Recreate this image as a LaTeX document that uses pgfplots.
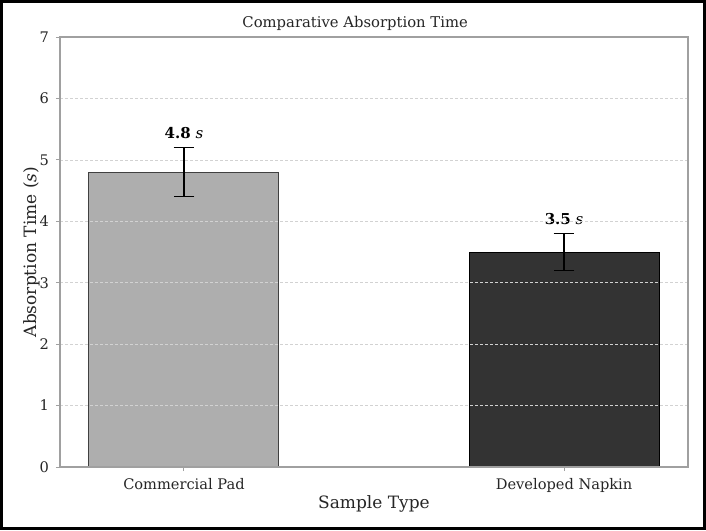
\documentclass[border=0pt]{standalone}
\usepackage{pgfplots}
\pgfplotsset{compat=1.18}
\usepackage{fontspec}
\setmainfont{DejaVu Serif}
\definecolor{lightbar}{HTML}{AEAEAE}
\definecolor{darkbar}{HTML}{333333}
\definecolor{axgray}{HTML}{A0A0A0}
\begin{document}
\begin{tikzpicture}
\useasboundingbox (0,0) rectangle (353pt,265pt);
\fill[white] (0,0) rectangle (353pt,265pt);
\begin{axis}[
  scale only axis,
  width=314pt, height=215pt,
  at={(30pt,31.5pt)}, anchor=south west,
  xmin=-0.326, xmax=1.326,
  ymin=0, ymax=7,
  ytick={0,1,2,3,4,5,6,7},
  xtick={0,1},
  xticklabels={Commercial Pad, Developed Napkin},
  xtick pos=bottom, ytick pos=left,
  /pgf/number format/assume math mode=true,
  ticklabel style={font=\fontsize{7.3}{8}\selectfont, text=black!85},
  tick align=outside,
  major tick length=2pt,
  tick style={axgray, line width=0.5pt},
  axis line style={axgray, line width=0.6pt},
  ymajorgrids,
  grid style={dash pattern=on 1.5pt off 1pt, gray!35, line width=0.35pt},
  axis on top,
  xlabel={Sample Type},
  ylabel={Absorption Time (\textit{s})},
  label style={font=\fontsize{8.5}{10}\selectfont, text=black!85},
  xlabel style={yshift=5pt},
  ylabel style={yshift=-7pt},
  title={Comparative Absorption Time},
  title style={font=\fontsize{7.4}{9}\selectfont, text=black!85, at={(0.47,1)}, yshift=-6.5pt},
  ybar, bar width=0.5,
  bar shift=0pt,
]
\addplot[fill=lightbar, draw=black!75, line width=0.5pt,
  error bars/.cd, y dir=both, y explicit,
  error bar style={black, line width=0.6pt},
  error mark options={rotate=90, mark size=5.2pt, black, line width=0.6pt}]
  coordinates {(0,4.8) +- (0,0.4)};
\addplot[fill=darkbar, draw=black, line width=0.5pt,
  error bars/.cd, y dir=both, y explicit,
  error bar style={black, line width=0.6pt},
  error mark options={rotate=90, mark size=5.2pt, black, line width=0.6pt}]
  coordinates {(1,3.5) +- (0,0.3)};
\node[anchor=south, font=\fontsize{7.5}{8}\selectfont, inner sep=1pt] at (axis cs:0,5.3) {\textbf{4.8}~\textit{s}};
\node[anchor=south, font=\fontsize{7.5}{8}\selectfont, inner sep=1pt] at (axis cs:1,3.9) {\textbf{3.5}~\textit{s}};
\end{axis}
\draw[black, line width=1.5pt] (0.75pt,0.75pt) rectangle (352.25pt,264.25pt);
\end{tikzpicture}
\end{document}
